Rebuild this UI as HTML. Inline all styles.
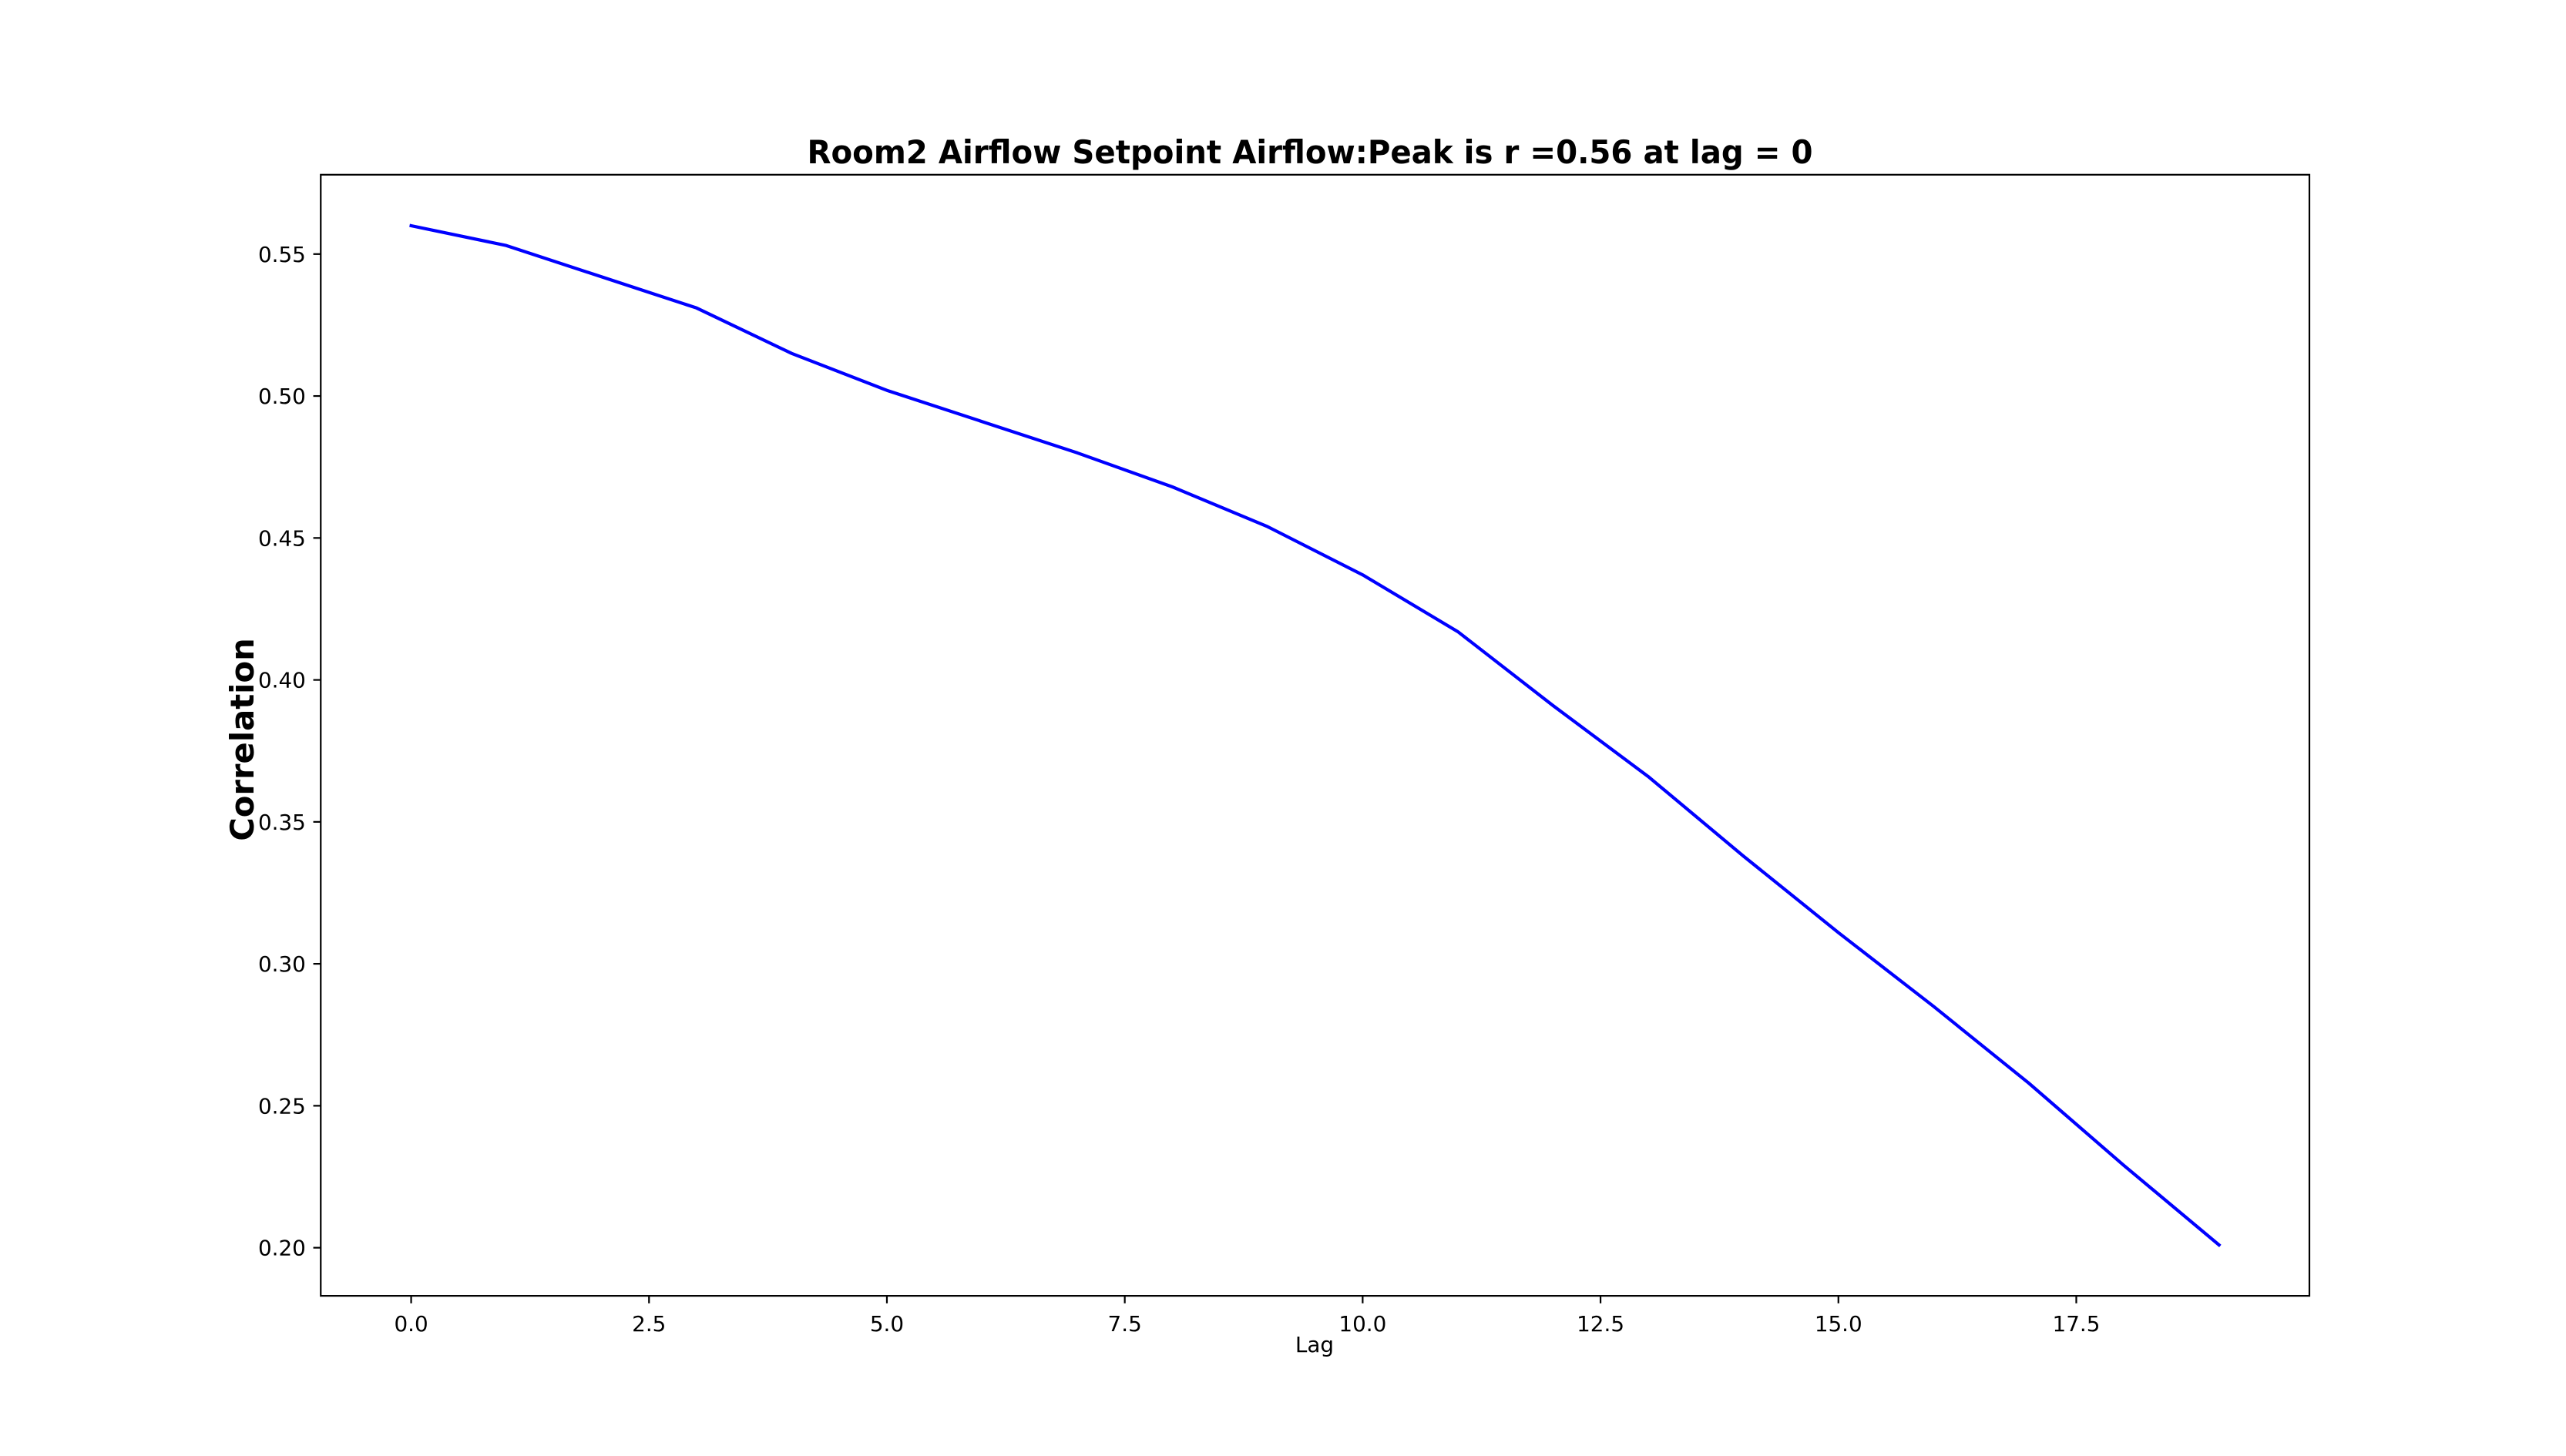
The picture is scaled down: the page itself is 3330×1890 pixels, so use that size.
<!DOCTYPE html>
<html><head><meta charset="utf-8">
<style>html,body{margin:0;padding:0;background:#fff}svg{display:block}text{font-family:"DejaVu Sans","Liberation Sans",sans-serif}</style>
</head><body>
<svg id="chart" width="3330" height="1890" viewBox="0 0 3330 1890" xmlns="http://www.w3.org/2000/svg">
<rect x="0" y="0" width="3330" height="1890" fill="#fff"/>
<text x="1700" y="212" text-anchor="middle" font-size="41.7" font-weight="bold" textLength="1305" lengthAdjust="spacingAndGlyphs">Room2 Airflow Setpoint Airflow:Peak is r =0.56 at lag = 0</text>
<text transform="translate(329,960) rotate(-90)" text-anchor="middle" font-size="41.7" font-weight="bold">Correlation</text>
<text x="1706" y="1755" text-anchor="middle" font-size="27.8">Lag</text>
<g id="plot"></g>
<rect x="416.25" y="226.8" width="2580.75" height="1455.3" fill="none" stroke="#000" stroke-width="2.2"/>
</svg>
<script>
const lags = [0,1,2,3,4,5,6,7,8,9,10,11,12,13,14,15,16,17,18,19];
const correlation = [0.560,0.553,0.542,0.531,0.515,0.502,0.491,0.480,0.468,0.454,0.437,0.417,0.391,0.366,0.338,0.311,0.285,0.258,0.229,0.201];
const xTicks = [0,2.5,5,7.5,10,12.5,15,17.5];
const xTickLabels = ["0.0","2.5","5.0","7.5","10.0","12.5","15.0","17.5"];
const yTicks = [0.20,0.25,0.30,0.35,0.40,0.45,0.50,0.55];
const yTickLabels = ["0.20","0.25","0.30","0.35","0.40","0.45","0.50","0.55"];

const L=416.25,R=2997,T=226.8,B=1682.1;
const xmin=Math.min(...lags),xmax=Math.max(...lags);
const ymin=Math.min(...correlation),ymax=Math.max(...correlation);
const xm=(xmax-xmin)*0.05, ym=(ymax-ymin)*0.05;
const x0=xmin-xm,x1=xmax+xm,y0=ymin-ym,y1=ymax+ym;
const xs=v=>L+(v-x0)/(x1-x0)*(R-L);
const ys=v=>B-(v-y0)/(y1-y0)*(B-T);
const NS="http://www.w3.org/2000/svg";
const g=document.getElementById('plot');
function mk(t,a){const e=document.createElementNS(NS,t);for(const k in a)e.setAttribute(k,a[k]);g.appendChild(e);return e;}
xTicks.forEach((v,i)=>{
  const l=mk('line',{x1:xs(v),x2:xs(v),y1:B,y2:B+9.7,stroke:'#000','stroke-width':2.2});
  
  
  const t=mk('text',{x:xs(v),y:B+46,'text-anchor':'middle','font-size':27.8});
  t.textContent=xTickLabels[i];
  
  
});
yTicks.forEach((v,i)=>{
  const l=mk('line',{x1:L-9.7,x2:L,y1:ys(v),y2:ys(v),stroke:'#000','stroke-width':2.2});
  
  
  const t=mk('text',{x:L-19.4,y:ys(v)+10,'text-anchor':'end','font-size':27.8});
  t.textContent=yTickLabels[i];
  
  
});
const pts=lags.map((v,i)=>xs(v).toFixed(1)+','+ys(correlation[i]).toFixed(1)).join(' ');
const line=mk('polyline',{points:pts,fill:'none',stroke:'#0000ff','stroke-width':4.2,'stroke-linejoin':'round','stroke-linecap':'square'});


</script>
</body></html>
